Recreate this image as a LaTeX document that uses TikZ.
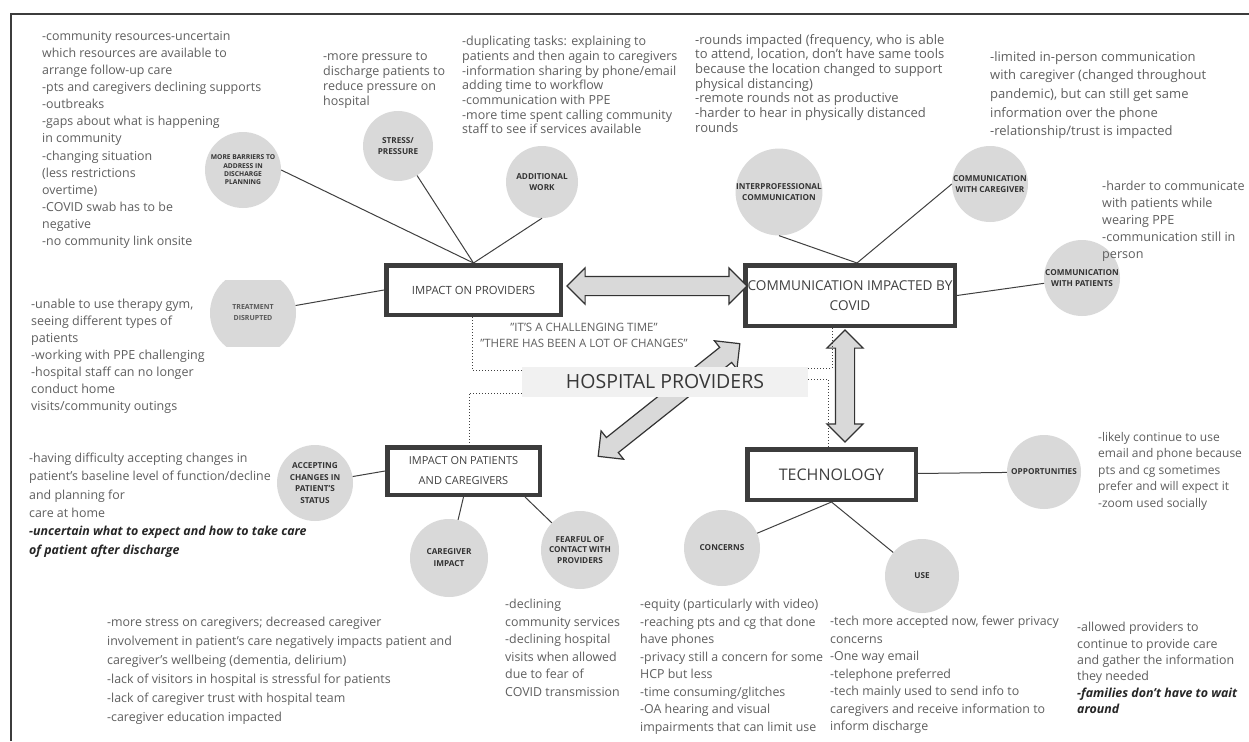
\documentclass[tikz,border=0pt]{standalone}
\usepackage{fontspec}
\setmainfont{Open Sans}
\usetikzlibrary{shapes.arrows}

\definecolor{bubblegray}{HTML}{D9D9D9}
\definecolor{notegray}{HTML}{5F5F5F}
\definecolor{framegray}{HTML}{3C3C3C}
\definecolor{bannergray}{HTML}{F1F1F1}

\begin{document}
\begin{tikzpicture}[x=1pt, y=-1pt,
  bubble/.style={circle, fill=bubblegray, minimum size=76pt, inner sep=0pt, align=center, text=black!80, font=\fontsize{8.2}{10.5}\selectfont\bfseries},
  theme/.style={rectangle, draw=framegray, line width=4.5pt, fill=white, inner sep=0pt, align=center, text=black!75},
  notes/.style 2 args={anchor=north west, inner sep=0pt, align=left, text=notegray, font=\fontsize{#1}{#2}\selectfont},
  bigarrow/.style={double arrow, double arrow head extend=8.5pt, inner xsep=0pt, inner ysep=9pt, draw=black!80, fill=bubblegray, line width=1.2pt},
  link/.style={draw=black!75, line width=1pt},
  dots/.style={draw=black!75, line width=1pt, dotted}]

  \fill[white] (0,0) rectangle (1249,741);
  \useasboundingbox (0,0) rectangle (1249,741);
  \draw[framegray, line width=1.2pt] (11,741) -- (11,14) -- (1249,14);

  \begin{scope}
    \clip (200,280) rectangle (310,346);
    \fill[bubblegray] (253,313) circle (43pt);
  \end{scope}

  \node[bubble, font=\fontsize{6.7}{8.3}\selectfont\bfseries] (barriers) at (243,170) {MORE BARRIERS TO\\ADDRESS IN\\DISCHARGE\\PLANNING};
  \node[bubble, minimum size=70pt] (stress) at (398,146) {STRESS/\\PRESSURE};
  \node[bubble, minimum size=72pt] (addwork) at (542,182) {ADDITIONAL\\WORK};
  \node[bubble, fill=none, minimum size=86pt, text=black!65, font=\fontsize{7}{11}\selectfont\bfseries] (treat) at (253,313) {TREATMENT\\DISRUPTED};
  \node[bubble] (interprof) at (779,192) {INTERPROFESSIONAL\\COMMUNICATION};
  \node[bubble] (careg) at (990,184) {COMMUNICATION\\WITH CAREGIVER};
  \node[bubble] (commpat) at (1082,278) {COMMUNICATION\\WITH PATIENTS};
  \node[bubble, font=\fontsize{8.2}{11.5}\selectfont\bfseries] (accept) at (315,483) {ACCEPTING\\CHANGES IN\\PATIENT'S\\STATUS};
  \node[bubble, minimum size=78pt, font=\fontsize{8.2}{12}\selectfont\bfseries] (careimp) at (449,558) {CAREGIVER\\IMPACT};
  \node[bubble, minimum size=78pt] (fearful) at (580,550) {FEARFUL OF\\CONTACT WITH\\PROVIDERS};
  \node[bubble] (concerns) at (722,548) {CONCERNS};
  \node[bubble, minimum size=74pt] (use) at (922,576) {USE};
  \node[bubble, minimum size=74pt] (opp) at (1044,472) {OPPORTUNITIES};

  \node[theme, minimum width=174.5pt, minimum height=49.5pt, font=\fontsize{11.3}{14}\selectfont] (prov) at (473.5,290) {IMPACT ON PROVIDERS};
  \node[theme, minimum width=209.5pt, minimum height=60.5pt, font=\fontsize{13.6}{20}\selectfont] (comm) at (850,295.5) {COMMUNICATION IMPACTED BY\\COVID};
  \node[theme, minimum width=152.5pt, minimum height=47.5pt, font=\fontsize{11}{20}\selectfont] (pat) at (463.5,471) {IMPACT ON PATIENTS\\AND CAREGIVERS};
  \node[theme, minimum width=168.5pt, minimum height=50.5pt, font=\fontsize{16}{20}\selectfont] (tech) at (831.5,474.5) {TECHNOLOGY};

  \draw[link] (barriers.east) -- (prov.north);
  \draw[link] (stress) -- (prov.north);
  \draw[link] (addwork.south) -- (prov.north);
  \draw[link] (treat) -- (prov.west);
  \draw[link] (interprof.south) -- ([xshift=7pt]comm.north);
  \draw[link] (careg.west) -- ([xshift=7pt]comm.north);
  \draw[link] (commpat) -- (comm.east);
  \draw[link] (accept) -- (pat.west);
  \draw[link] (careimp) -- (pat.south);
  \draw[link] (fearful) -- ([xshift=-17pt]pat.south east);
  \draw[link] (concerns) -- (tech.south);
  \draw[link] (use) -- (tech.south);
  \draw[link] (tech) -- (opp);

  \node[bigarrow, minimum height=180pt] (provcomm) at (657,286) {};
  \node[bigarrow, minimum height=112pt, rotate=90] (commtech) at (845,386) {};
  \node[bigarrow, minimum height=181pt, rotate=38.5] (patcomm) at (669,400) {};

  \node[fill=bannergray, minimum width=286pt, minimum height=30pt, inner sep=0pt, text=black!78, font=\fontsize{19.5}{20}\selectfont] (hosp) at (665,382) {HOSPITAL PROVIDERS};
  \node[text=notegray, align=center, font=\fontsize{11.5}{16}\selectfont] (quote) at (584,335) {"IT'S A CHALLENGING TIME"\\"THERE HAS BEEN A LOT OF CHANGES"};

  \draw[dots] ([yshift=12pt]hosp.west) -| ([xshift=-1.5pt]prov.south);
  \draw[dots] ([yshift=-11pt]hosp.west) -| ([xshift=5.5pt]pat.north);
  \draw[dots] ([yshift=14pt]hosp.east) -| ([xshift=-18pt]comm.south);
  \draw[dots] ([yshift=3pt]hosp.east) -| ([xshift=-3.5pt]tech.north);

  \node[notes={12.4}{17.1}] (barriersnotes) at (42,31) {-community resources-uncertain\\which resources are available to\\arrange follow-up care\\-pts and caregivers declining supports\\-outbreaks\\-gaps about what is happening\\in community\\-changing situation\\(less restrictions\\overtime)\\-COVID swab has to be\\negative\\-no community link onsite};
  \node[notes={12.5}{15}] (stressnotes) at (323,52) {-more pressure to\\discharge patients to\\reduce pressure on\\hospital};
  \node[notes={12.5}{14.7}] (worknotes) at (462,36) {-duplicating tasks: explaining to\\patients and then again to caregivers\\-information sharing by phone/email\\adding time to workflow\\-communication with PPE\\-more time spent calling community\\staff to see if services available};
  \node[notes={13}{14.7}] (interprofnotes) at (695,34) {-rounds impacted (frequency, who is able\\to attend, location, don't have same tools\\because the location changed to support\\physical distancing)\\-remote rounds not as productive\\-harder to hear in physically distanced\\rounds};
  \node[notes={13}{18.7}] (caregnotes) at (990,51) {-limited in-person communication\\with caregiver (changed throughout\\pandemic), but can still get same\\information over the phone\\-relationship/trust is impacted};
  \node[notes={12.6}{17}] (commpatnotes) at (1102,181) {-harder to communicate\\with patients while\\wearing PPE\\-communication still in\\person};
  \node[notes={12.5}{17}] (treatnotes) at (31,299) {-unable to use therapy gym,\\seeing different types of\\patients\\-working with PPE challenging\\-hospital staff can no longer\\conduct home\\visits/community outings};
  \node[notes={12.4}{18.3}] (acceptnotes) at (29,453) {-having difficulty accepting changes in\\patient's baseline level of function/decline\\and planning for\\care at home\\{\color{black!85}\bfseries\itshape -uncertain what to expect and how to take care}\\{\color{black!85}\bfseries\itshape of patient after discharge}};
  \node[notes={12.4}{19}] (careimpnotes) at (107,617) {-more stress on caregivers; decreased caregiver\\involvement in patient's care negatively impacts patient and\\caregiver's wellbeing (dementia, delirium)\\-lack of visitors in hospital is stressful for patients\\-lack of caregiver trust with hospital team\\-caregiver education impacted};
  \node[notes={12.4}{17.5}] (fearnotes) at (505,599) {-declining\\community services\\-declining hospital\\visits when allowed\\due to fear of\\COVID transmission};
  \node[notes={12.4}{17.5}] (concernnotes) at (640,599) {-equity (particularly with video)\\-reaching pts and cg that done\\have phones\\-privacy still a concern for some\\HCP but less\\-time consuming/glitches\\-OA hearing and visual\\impairments that can limit use};
  \node[notes={12.4}{17.5}] (usenotes) at (830,616) {-tech more accepted now, fewer privacy\\concerns\\-One way email\\-telephone preferred\\-tech mainly used to send info to\\caregivers and receive information to\\inform discharge};
  \node[notes={12.4}{16.4}] (gainnotes) at (1077,622) {-allowed providers to\\continue to provide care\\and gather the information\\they needed\\{\color{black!85}\bfseries\itshape -families don't have to wait}\\{\color{black!85}\bfseries\itshape around}};
  \node[notes={12}{16.5}] (oppnotes) at (1098,432) {-likely continue to use\\email and phone because\\pts and cg sometimes\\prefer and will expect it\\-zoom used socially};
\end{tikzpicture}
\end{document}
